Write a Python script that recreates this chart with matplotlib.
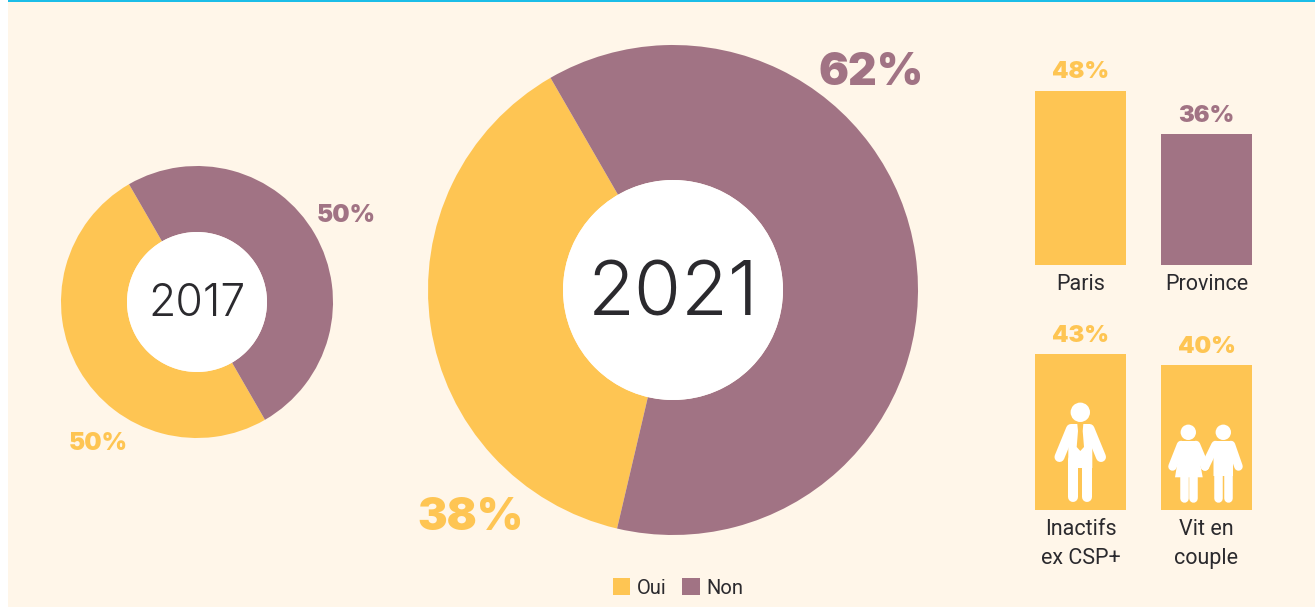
import matplotlib
matplotlib.use("Agg")
import matplotlib.pyplot as plt
from matplotlib.patches import Rectangle, Circle, Polygon, Patch
from matplotlib.lines import Line2D

W, H = 1315, 607
YEL, MAU, BG, CY, INK = "#FEC553", "#A17384", "#FFF6E9", "#1CBDE8", "#2B2A2E"
NARROW = ["Roboto", "DejaVu Sans"]
BOLD = ["Inter", "DejaVu Sans"]
LIGHT = ["Inter", "DejaVu Sans"]

series = ["Oui", "Non"]
vals_2017 = [50, 50]
vals_2021 = [38, 62]
bars_top_labels = ["Paris", "Province"]
bars_top_vals = [48, 36]
bars_bot_labels = ["Inactifs\nex CSP+", "Vit en\ncouple"]
bars_bot_vals = [43, 40]

fig = plt.figure(figsize=(W / 100, H / 100), dpi=100, facecolor="white")

def rect(x0, y0, x1, y1):
    return [x0 / W, 1 - y1 / H, (x1 - x0) / W, (y1 - y0) / H]

bg = fig.add_axes([0, 0, 1, 1], zorder=0)
bg.set_xlim(0, W); bg.set_ylim(H, 0); bg.axis("off")
bg.add_patch(Rectangle((8, 2), W - 8, H - 2, fc=BG, ec="none"))
bg.add_patch(Rectangle((8, 0), W - 8, 2, fc=CY, ec="none"))

def donut(cx, cy, r, inner, vals, year, fs, dy):
    ax = fig.add_axes(rect(cx - r, cy - r, cx + r, cy + r), zorder=1)
    ax.pie(vals, colors=[YEL, MAU], startangle=120, radius=1, counterclock=True,
           wedgeprops=dict(width=1 - inner / r, linewidth=0))
    ax.set_xlim(-1, 1); ax.set_ylim(-1, 1)
    ax.add_patch(Circle((0, 0), inner / r, fc="white", ec="none"))
    ax.text(0, -dy / r, year, ha="center", va="center", fontsize=fs, color=INK,
            family=LIGHT, fontweight=300)

donut(197, 302, 136, 70, vals_2017, "2017", 32, 2)
donut(673, 290, 245, 110, vals_2021, "2021", 55, 6)

def pct(x, y, v, color, fs):
    bg.text(x, y, f"{v}%", ha="center", va="center", fontsize=fs, color=color,
            family=BOLD, fontweight=900, zorder=5)

pct(346, 216, vals_2017[1], MAU, 17.5)
pct(98, 444, vals_2017[0], YEL, 17.5)
pct(871, 73, vals_2021[1], MAU, 32)
pct(471, 518, vals_2021[0], YEL, 32)

PX = 3.62
def bars(y_base, labels, vals, colors, lab_y):
    h = 100 * PX
    ax = fig.add_axes(rect(1035, y_base - h, 1252, y_base), zorder=1)
    ax.set_xlim(0, 217); ax.set_ylim(0, 100); ax.axis("off")
    ax.patch.set_alpha(0)
    ax.bar([45.5, 171.5], vals, width=91, color=colors, linewidth=0)
    for x, v, c in zip([45.5, 171.5], vals, colors):
        ax.text(x, v + 5.1, f"{v}%", ha="center", va="center", fontsize=17, color=c,
                family=BOLD, fontweight=900, clip_on=False)
    for x, l in zip([1080.5, 1206.5], labels):
        bg.text(x, lab_y, l, ha="center", va="top", fontsize=15.5, color=INK,
                family=NARROW, linespacing=1.5, zorder=5)

bars(264.5, bars_top_labels, bars_top_vals, [YEL, MAU], 274)
bars(510, bars_bot_labels, bars_bot_vals, [YEL, YEL], 519)

ic = fig.add_axes([0, 0, 1, 1], zorder=3)
ic.set_xlim(0, W); ic.set_ylim(H, 0); ic.axis("off"); ic.patch.set_alpha(0)

def seg(pts, lw):
    xs, ys = zip(*pts)
    ic.add_line(Line2D(xs, ys, color="white", lw=lw * 0.72, solid_capstyle="round"))

def poly(pts, c="white"):
    ic.add_patch(Polygon(pts, closed=True, fc=c, ec="none"))

# man
ic.add_patch(Circle((1080.3, 412.3), 9.7, fc="white", ec="none"))
poly([(1071, 424), (1090, 424), (1092.3, 436), (1092.3, 468), (1068.3, 468), (1068.3, 436)])
seg([(1071, 429), (1059.5, 457)], 10)
seg([(1089.5, 429), (1101, 457)], 10)
seg([(1073.3, 460), (1073.3, 496.7)], 10)
seg([(1087.3, 460), (1087.3, 496.7)], 10)
poly([(1077.3, 424), (1083.3, 424), (1082.7, 431), (1084, 447), (1080.3, 451), (1076.7, 447), (1078, 431)], YEL)

# woman
ic.add_patch(Circle((1188.3, 432.3), 7.7, fc="white", ec="none"))
poly([(1181, 441), (1196, 441), (1202.7, 477.3), (1175, 477.3)])
seg([(1181, 445), (1172.5, 466.5)], 8.5)
seg([(1196, 445), (1205, 466.5)], 8.5)
seg([(1183.8, 475), (1183.8, 497.5)], 8.5)
seg([(1193.5, 475), (1193.5, 497.5)], 8.5)
# man
ic.add_patch(Circle((1223.3, 432.3), 7.7, fc="white", ec="none"))
poly([(1215.5, 441), (1231, 441), (1233, 448), (1233, 476), (1213.5, 476), (1213.5, 448)])
seg([(1215.5, 445), (1205, 466.5)], 8.5)
seg([(1231, 445), (1238.5, 466.5)], 8.5)
seg([(1218, 472), (1218, 497.5)], 8.5)
seg([(1228.5, 472), (1228.5, 497.5)], 8.5)

handles = [Patch(fc=YEL, ec="none", label=series[0]), Patch(fc=MAU, ec="none", label=series[1])]
bg.legend(handles=handles, loc="center", bbox_to_anchor=(678, 588),
          bbox_transform=bg.transData, ncol=2, frameon=False,
          prop=dict(family=NARROW, size=14.5), handlelength=0.85, handleheight=0.85,
          handletextpad=0.34, columnspacing=0.8, labelcolor=INK, borderpad=0, borderaxespad=0)

fig.savefig("out.png", dpi=100, facecolor="white")
